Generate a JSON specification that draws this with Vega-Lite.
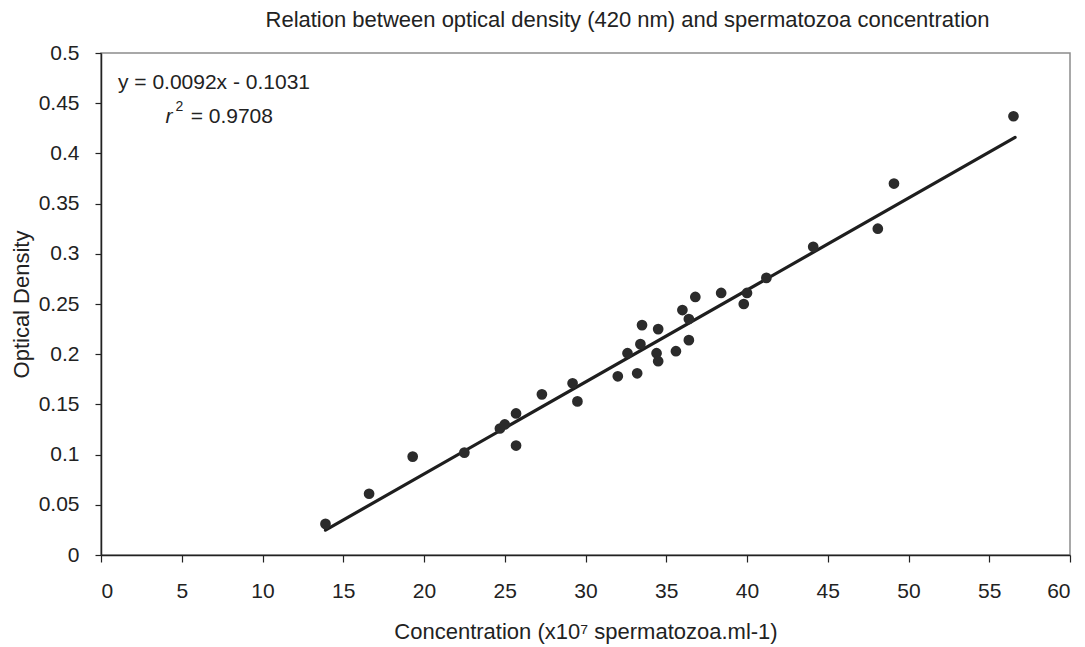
{
  "$schema": "https://vega.github.io/schema/vega-lite/v6.json",
  "width": 969,
  "height": 502,
  "autosize": "none",
  "padding": {"left": 101, "top": 53, "right": 15, "bottom": 92},
  "background": "white",
  "config": {
    "font": "Liberation Sans",
    "view": {"stroke": "#8c8c8c", "strokeWidth": 1.5},
    "axis": {
      "grid": false,
      "domainColor": "#222",
      "domainWidth": 1.5,
      "tickColor": "#222",
      "tickWidth": 1.2,
      "tickSize": 7,
      "labelFont": "Liberation Sans",
      "labelFontSize": 21,
      "labelColor": "#222",
      "titleFont": "Liberation Sans",
      "titleFontSize": 22,
      "titleFontWeight": "normal",
      "titleColor": "#222"
    }
  },
  "title": {
    "text": "Relation between optical density (420 nm) and spermatozoa concentration",
    "fontSize": 22,
    "fontWeight": "normal",
    "color": "#222",
    "font": "Liberation Sans",
    "dx": 42,
    "offset": 10
  },
  "datasets": {
    "points": [
      {"conc": 13.9, "od": 0.031},
      {"conc": 16.6, "od": 0.061},
      {"conc": 19.3, "od": 0.098},
      {"conc": 22.5, "od": 0.102},
      {"conc": 24.7, "od": 0.126},
      {"conc": 25.0, "od": 0.130},
      {"conc": 25.7, "od": 0.141},
      {"conc": 25.7, "od": 0.109},
      {"conc": 27.3, "od": 0.160},
      {"conc": 29.2, "od": 0.171},
      {"conc": 29.5, "od": 0.153},
      {"conc": 32.0, "od": 0.178},
      {"conc": 33.2, "od": 0.181},
      {"conc": 32.6, "od": 0.201},
      {"conc": 33.4, "od": 0.210},
      {"conc": 33.5, "od": 0.229},
      {"conc": 34.4, "od": 0.201},
      {"conc": 34.5, "od": 0.193},
      {"conc": 34.5, "od": 0.225},
      {"conc": 35.6, "od": 0.203},
      {"conc": 36.4, "od": 0.214},
      {"conc": 36.4, "od": 0.235},
      {"conc": 36.0, "od": 0.244},
      {"conc": 36.8, "od": 0.257},
      {"conc": 38.4, "od": 0.261},
      {"conc": 39.8, "od": 0.250},
      {"conc": 40.0, "od": 0.261},
      {"conc": 41.2, "od": 0.276},
      {"conc": 44.1, "od": 0.307},
      {"conc": 48.1, "od": 0.325},
      {"conc": 49.1, "od": 0.370},
      {"conc": 56.5, "od": 0.437}
    ],
    "fit": [
      {"conc": 13.9, "od": 0.0248},
      {"conc": 56.6, "od": 0.4160}
    ],
    "labels": [
      {"conc": 1.05, "od": 0.4706, "label": "y = 0.0092x - 0.1031", "kind": "eq"},
      {"conc": 4.0, "od": 0.4364, "label": "r", "kind": "r"},
      {"conc": 4.62, "od": 0.4467, "label": "2", "kind": "sup"},
      {"conc": 5.55, "od": 0.4364, "label": "= 0.9708", "kind": "val"}
    ]
  },
  "layer": [
    {
      "data": {"name": "fit"},
      "mark": {"type": "line", "color": "#1e1e1e", "strokeWidth": 3.2, "strokeCap": "round"},
      "encoding": {
        "x": {
          "field": "conc",
          "type": "quantitative",
          "scale": {"domain": [0, 60], "nice": false},
          "axis": {
            "values": [0, 5, 10, 15, 20, 25, 30, 35, 40, 45, 50, 55, 60],
            "title": "Concentration (x10⁷ spermatozoa.ml-1)",
            "labelPadding": 18,
            "titlePadding": 20
          }
        },
        "y": {
          "field": "od",
          "type": "quantitative",
          "scale": {"domain": [0, 0.5], "nice": false},
          "axis": {
            "values": [0, 0.05, 0.1, 0.15, 0.2, 0.25, 0.3, 0.35, 0.4, 0.45, 0.5],
            "format": "~g",
            "title": "Optical Density",
            "tickSize": 6,
            "labelPadding": 16,
            "titlePadding": 5
          }
        }
      }
    },
    {
      "data": {"name": "points"},
      "mark": {"type": "circle", "color": "#2b2b2b", "opacity": 1, "size": 115},
      "encoding": {
        "x": {"field": "conc", "type": "quantitative"},
        "y": {"field": "od", "type": "quantitative"}
      }
    },
    {
      "data": {"name": "labels"},
      "transform": [{"filter": "datum.kind == 'eq' || datum.kind == 'val'"}],
      "mark": {"type": "text", "align": "left", "baseline": "middle", "fontSize": 21, "color": "#222", "font": "Liberation Sans"},
      "encoding": {
        "x": {"field": "conc", "type": "quantitative"},
        "y": {"field": "od", "type": "quantitative"},
        "text": {"field": "label"}
      }
    },
    {
      "data": {"name": "labels"},
      "transform": [{"filter": "datum.kind == 'r'"}],
      "mark": {"type": "text", "align": "left", "baseline": "middle", "fontSize": 21, "fontStyle": "italic", "color": "#222", "font": "Liberation Sans"},
      "encoding": {
        "x": {"field": "conc", "type": "quantitative"},
        "y": {"field": "od", "type": "quantitative"},
        "text": {"field": "label"}
      }
    },
    {
      "data": {"name": "labels"},
      "transform": [{"filter": "datum.kind == 'sup'"}],
      "mark": {"type": "text", "align": "left", "baseline": "middle", "fontSize": 14, "color": "#222", "font": "Liberation Sans"},
      "encoding": {
        "x": {"field": "conc", "type": "quantitative"},
        "y": {"field": "od", "type": "quantitative"},
        "text": {"field": "label"}
      }
    }
  ]
}
